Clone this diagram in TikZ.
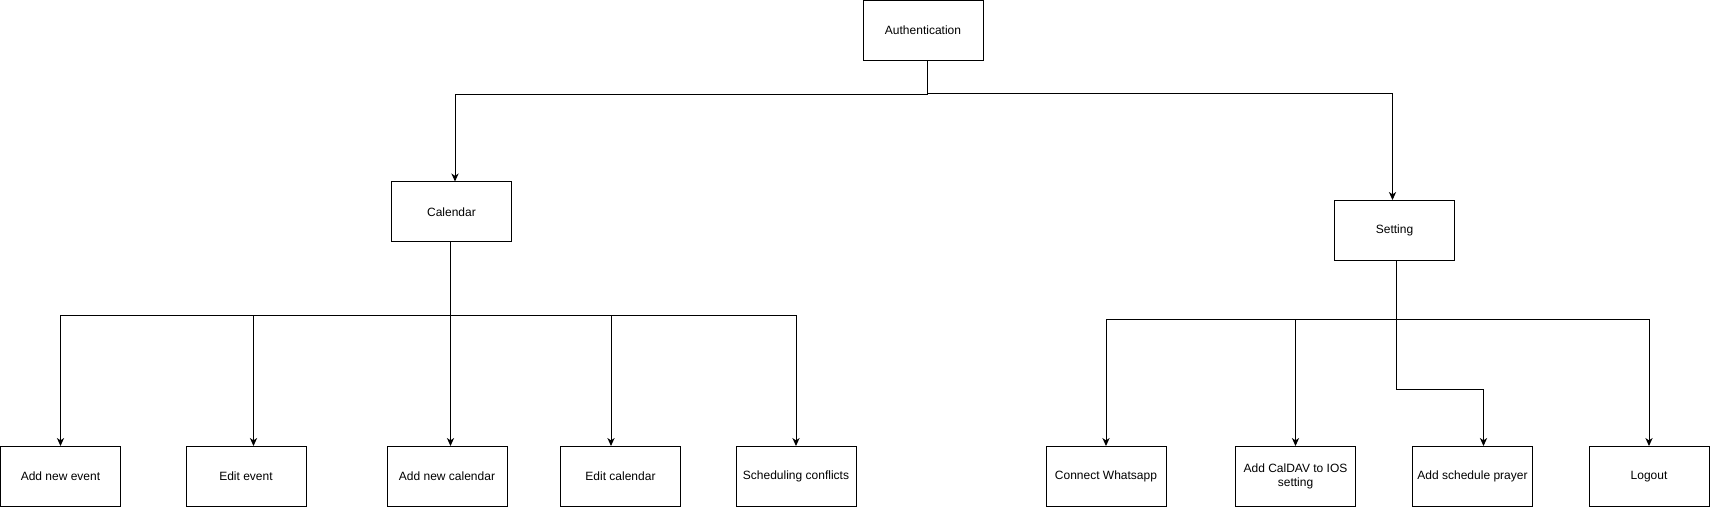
\documentclass[tikz,border=0pt]{standalone}
\usepackage{fontspec}
\setmainfont{Liberation Sans}
\usetikzlibrary{arrows.meta}
\begin{document}
\begin{tikzpicture}[x=0.5pt, y=0.5pt,
        box/.style={draw, line width=0.5pt, minimum width=60pt, minimum height=30pt, inner sep=1pt, align=center, font=\fontsize{6pt}{7.2pt}\selectfont},
        link/.style={line width=0.5pt, -{Stealth[length=4pt, width=3.6pt, inset=1.2pt]}}]
                \useasboundingbox (0,0) rectangle (1710,-507);
                \node[box] (auth) at (923,-30.5) {Authentication};
                \node[box] (cal) at (451.5,-212) {Calendar};
                \node[box] (set) at (1394.5,-230.5) {Setting};
                \node[box] (ane) at (60.5,-476.5) {Add new event};
                \node[box] (ee) at (246,-476.5) {Edit event};
                \node[box] (anc) at (447,-476.5) {Add new calendar};
                \node[box] (ec) at (620.5,-476.5) {Edit calendar};
                \node[box] (sc) at (796,-476.5) {Scheduling conflicts};
                \node[box] (cw) at (1106,-476.5) {Connect Whatsapp};
                \node[box] (cd) at (1295.5,-476.5) {Add CalDAV to IOS\\setting};
                \node[box] (sp) at (1472.5,-476.5) {Add schedule prayer};
                \node[box] (lo) at (1649,-476.5) {Logout};
                \draw[link] ([xshift=2pt]auth.south) -- ++(0,-34) -| ([xshift=1.75pt]cal.north);
                \draw[link] ([xshift=2pt]auth.south) -- ++(0,-33) -| ([xshift=-1pt]set.north);
                \foreach \n/\s in {ane/0, ee/3.75, anc/1.75, ec/-4.75, sc/0}
                    \draw[link] ([xshift=-0.5pt]cal.south) -- ++(0,-73.5) -| ([xshift=\s pt]\n.north);
                \foreach \n in {cw, cd, lo}
                    \draw[link] ([xshift=1pt]set.south) -- ++(0,-59) -| (\n.north);
                \draw[link] ([xshift=1pt]set.south) -- ++(0,-129) -| ([xshift=5.5pt]sp.north);
            \end{tikzpicture}
\end{document}
